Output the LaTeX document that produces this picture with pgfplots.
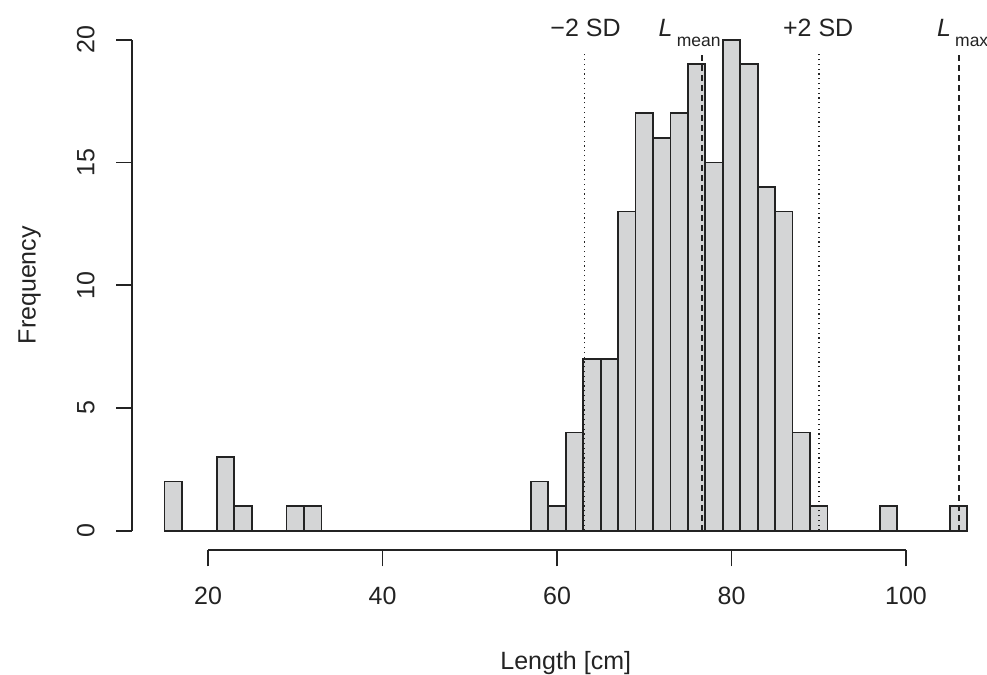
\documentclass[border=0pt]{standalone}
\usepackage{fontspec}
\setmainfont{Liberation Sans}
\usepackage{pgfplots}
\pgfplotsset{compat=1.18}
\definecolor{barfill}{RGB}{212,213,214}
\definecolor{ink}{RGB}{35,35,35}

% 1 px of the reference = 0.5pt
\begin{document}
\begin{tikzpicture}
\begin{axis}[
    at={(0pt,0pt)}, anchor=south west,
    scale only axis,
    width=433.45pt, height=265.1pt,
    xmin=11.32, xmax=110.68,
    ymin=-0.8, ymax=20.8,
    axis lines*=left,
    axis line style={draw=none},
    clip=false,
    xtick={20,40,60,80,100},
    ytick={0,5,10,15,20},
    tick align=outside,
    major tick length=8pt,
    tick style={ink, line width=0.9pt},
    /pgf/number format/assume math mode=true,
    ticklabel style={font=\fontsize{12.5}{15}\selectfont, text=ink},
    xticklabel style={anchor=base, inner sep=0pt},
    xticklabel shift=19pt,
    yticklabel style={rotate=90, anchor=base, inner sep=0pt},
    yticklabel shift=11pt,
]

% histogram, bins of 2 cm from 15 to 107
\addplot[ybar interval, fill=barfill, draw=ink, line width=0.9pt] coordinates {
    (15,2) (17,0) (19,0) (21,3) (23,1) (25,0) (27,0) (29,1) (31,1)
    (33,0) (35,0) (37,0) (39,0) (41,0) (43,0) (45,0) (47,0) (49,0)
    (51,0) (53,0) (55,0) (57,2) (59,1) (61,4) (63,7) (65,7) (67,13)
    (69,17) (71,16) (73,17) (75,19) (77,15) (79,20) (81,19) (83,14)
    (85,13) (87,4) (89,1) (91,0) (93,0) (95,0) (97,1) (99,0) (101,0)
    (103,0) (105,1) (107,0)
};

% reference lines
\addplot[ink, line width=0.8pt, dash pattern=on 0.6pt off 1.8pt] coordinates {(63.13,0) (63.13,19.5)};
\addplot[ink, line width=0.8pt, dash pattern=on 0.6pt off 1.8pt] coordinates {(90.06,0) (90.06,19.5)};
\addplot[ink, line width=0.8pt, dash pattern=on 2.6pt off 2.4pt] coordinates {(76.65,0) (76.65,19.5)};
\addplot[ink, line width=0.8pt, dash pattern=on 2.6pt off 2.4pt] coordinates {(106.1,0) (106.1,19.5)};

% R-style axis lines
\draw[ink, line width=0.9pt] (axis cs:20,-0.8) -- (axis cs:100,-0.8);
\draw[ink, line width=0.9pt] (axis cs:11.32,0) -- (axis cs:11.32,20);

\begin{scope}[every node/.style={inner sep=0pt, text=ink, font=\fontsize{12.5}{15}\selectfont}]
\node[anchor=base west] at (axis cs:59.2,20.12) {−2 SD};
\node[anchor=base west] at (axis cs:85.87,20.12) {+2 SD};
\node[anchor=base west] at (axis cs:71.61,20.12) {\textit{L}\,\raisebox{-5pt}{\fontsize{8.75}{10}\selectfont mean}};
\node[anchor=base west] at (axis cs:103.52,20.12) {\textit{L}\,\raisebox{-5pt}{\fontsize{8.75}{10}\selectfont max}};
\node[anchor=base] at (axis cs:61,-5.67) {Length [cm]};
\node[anchor=north, rotate=90] at (axis cs:-1.78,10) {Frequency};
\end{scope}
\end{axis}
\pgfresetboundingbox
\useasboundingbox (-66.15pt,-62.35pt) rectangle (427.35pt,275.15pt);
\end{tikzpicture}
\end{document}
